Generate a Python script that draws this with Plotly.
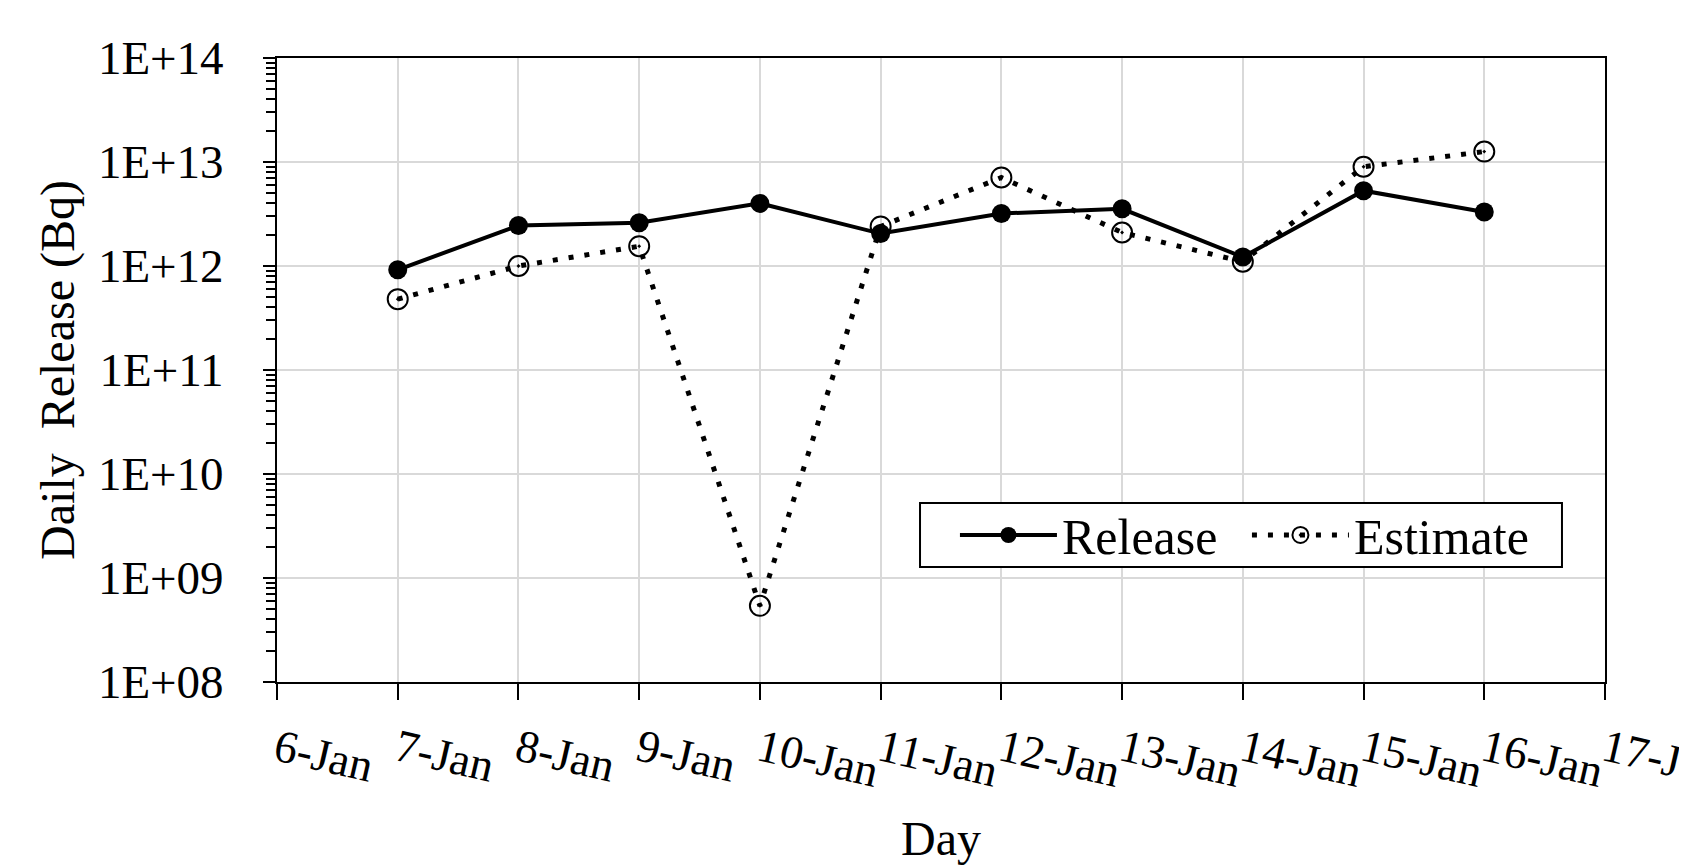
import plotly.graph_objects as go

all_days = ["6-Jan", "7-Jan", "8-Jan", "9-Jan", "10-Jan", "11-Jan", "12-Jan",
            "13-Jan", "14-Jan", "15-Jan", "16-Jan", "17-Jan"]
days = ["7-Jan", "8-Jan", "9-Jan", "10-Jan", "11-Jan", "12-Jan",
        "13-Jan", "14-Jan", "15-Jan", "16-Jan"]
release = [9.2e11, 2.45e12, 2.6e12, 4.0e12, 2.05e12, 3.2e12, 3.55e12, 1.22e12, 5.3e12, 3.3e12]
estimate = [4.8e11, 1.0e12, 1.55e12, 5.4e8, 2.4e12, 7.1e12, 2.1e12, 1.1e12, 9.0e12, 1.26e13]
ytick_vals = [1e8, 1e9, 1e10, 1e11, 1e12, 1e13, 1e14]
ytick_text = ["1E+08", "1E+09", "1E+10", "1E+11", "1E+12", "1E+13", "1E+14"]

FONT = "Liberation Serif"
fig = go.Figure()
fig.add_trace(go.Scatter(
    x=days, y=release, name="Release", mode="lines+markers",
    line=dict(color="black", width=4),
    marker=dict(symbol="circle", size=19, color="black"),
))
fig.add_trace(go.Scatter(
    x=days, y=estimate, name="Estimate", mode="lines+markers",
    line=dict(color="black", width=5, dash="5px,11px"),
    marker=dict(symbol="circle-open-dot", size=20, color="black", line=dict(width=2)),
))

# legend frame
fig.add_shape(type="rect", xref="paper", yref="paper",
              x0=0.4842, x1=0.9676, y0=0.1843, y1=0.2869,
              line=dict(color="black", width=2), fillcolor="white", layer="above")

fig.update_layout(
    width=1687, height=867,
    margin=dict(l=269, r=90, t=50, b=193),
    paper_bgcolor="white", plot_bgcolor="white",
    font=dict(family=FONT, size=46, color="black"),
    legend=dict(
        orientation="h", x=0.5105, y=0.2356, xanchor="left", yanchor="middle",
        bgcolor="rgba(0,0,0,0)", borderwidth=0,
        font=dict(family=FONT, size=50), itemwidth=97,
        entrywidth=180, entrywidthmode="pixels",
    ),
    showlegend=True,
)
fig.update_xaxes(
    type="category", categoryorder="array", categoryarray=all_days,
    tickvals=all_days, ticktext=all_days, automargin=False,
    range=[0, 11], showgrid=True, gridcolor="#d9d9d9", gridwidth=2,
    showline=True, linecolor="black", linewidth=2, mirror=True,
    ticks="outside", ticklen=16, tickcolor="black", tickwidth=2,
    tickangle=13, ticklabelstandoff=5,
    tickfont=dict(family=FONT, size=46),
    title=dict(text="Day", font=dict(family=FONT, size=48), standoff=25),
)
fig.update_yaxes(
    type="log", range=[8, 14], tickvals=ytick_vals, ticktext=ytick_text,
    automargin=False,
    showgrid=True, gridcolor="#d9d9d9", gridwidth=2,
    showline=True, linecolor="black", linewidth=2, mirror=True,
    ticks="outside", ticklen=12, tickcolor="black", tickwidth=2,
    ticklabelstandoff=30,
    tickfont=dict(family=FONT, size=47),
    minor=dict(ticks="outside", ticklen=9, tickcolor="black", tickwidth=2,
               dtick="D1", showgrid=False),
    title=dict(text="Daily  Release (Bq)", font=dict(family=FONT, size=48), standoff=8),
)
fig.write_html("out.html")
